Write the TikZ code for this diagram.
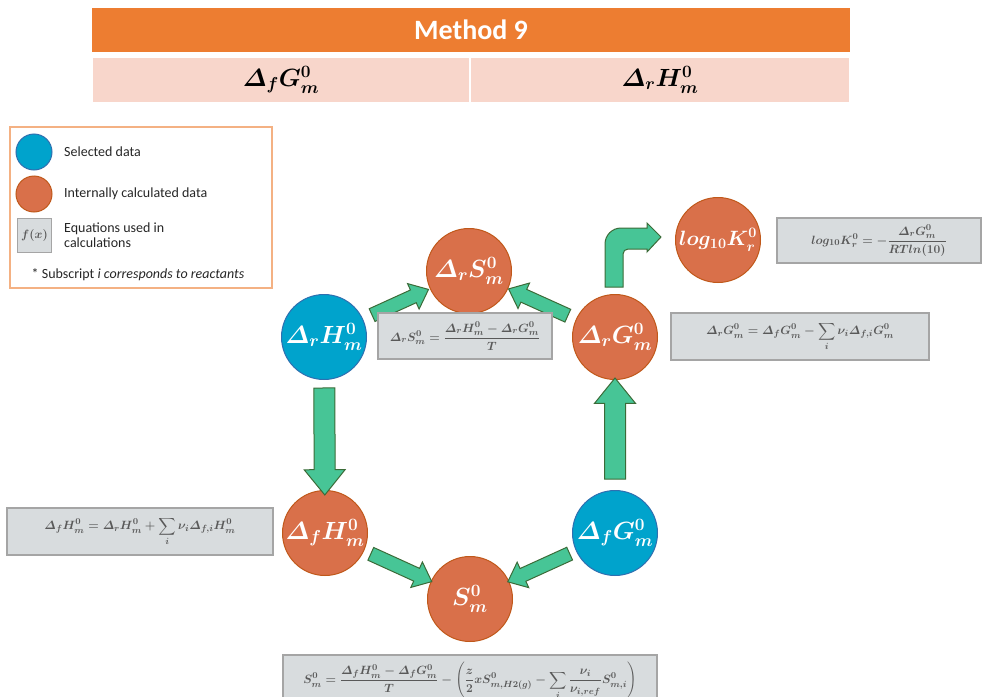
\documentclass[tikz,border=0pt]{standalone}
\usepackage{amsmath}
\usepackage{fontspec}
\newfontfamily\calibri{Carlito}
\usetikzlibrary{shapes.arrows}
\usetikzlibrary{calc}

\definecolor{headorange}{HTML}{ED7D31}
\definecolor{cellpink}{HTML}{F8D6CB}
\definecolor{selblue}{HTML}{00A3CC}
\definecolor{selblueline}{HTML}{2F6FB0}
\definecolor{calcorange}{HTML}{D9704A}
\definecolor{calcorangeline}{HTML}{C0581A}
\definecolor{eqfill}{HTML}{D8DCDE}
\definecolor{eqline}{HTML}{A5A5A5}
\definecolor{eqtext}{HTML}{595959}
\definecolor{arrowgreen}{HTML}{47C596}
\definecolor{arrowline}{HTML}{3B6B38}
\definecolor{legendline}{HTML}{F4B183}
\definecolor{legtextcol}{HTML}{262626}

\begin{document}
\begin{tikzpicture}
[x=1pt,y=1pt,%
  every node/.style={inner sep=0pt},%
  cell/.style={rectangle,fill=cellpink,draw=white,line width=1.5pt,minimum height=46pt,font=\fontsize{26}{30}\selectfont\boldmath},%
  datanode/.style={circle,minimum size=85pt,line width=1pt,text=white,font=\fontsize{26}{30}\selectfont\boldmath},%
  seldata/.style={datanode,fill=selblue,draw=selblueline},%
  calcdata/.style={datanode,fill=calcorange,draw=calcorangeline},%
  eqbox/.style={rectangle,fill=eqfill,draw=eqline,line width=1.2pt,text=eqtext,font=\fontsize{12.5}{15}\selectfont\boldmath},%
  legtext/.style={anchor=west,align=left,text=legtextcol,font=\calibri\fontsize{14}{15.5}\selectfont},%
  bigarrow/.style={single arrow,sloped,allow upside down,fill=arrowgreen,draw=arrowline,line width=1pt,%
    inner xsep=0pt,inner ysep=10pt,single arrow head extend=10pt,single arrow tip angle=78},%
  smallarrow/.style={bigarrow,inner ysep=6.5pt,single arrow head extend=7pt,single arrow tip angle=80},%
  bentarrow/.style={fill=arrowgreen,draw=arrowline,line width=1pt}]
\useasboundingbox (0,0) rectangle (982,-696);
% header table
\node[rectangle,fill=headorange,minimum width=758pt,minimum height=44pt,text=white,
  font=\calibri\bfseries\fontsize{28}{32}\selectfont] (title) at (471,-30) {Method 9};
\node[cell,minimum width=378pt] (inG) at (281,-80) {$\varDelta_f G^0_m$};
\node[cell,minimum width=380pt] (inH) at (660,-80) {$\varDelta_r H^0_m$};
% legend
\node[rectangle,draw=legendline,line width=1.5pt,minimum width=262pt,minimum height=161pt] (legend) at (141,-207.5) {};
\node[circle,fill=selblue,draw=selblueline,line width=1pt,minimum size=36pt] (legsel) at (34,-152) {};
\node[circle,fill=calcorange,draw=calcorangeline,line width=1pt,minimum size=36pt] (legcalc) at (34,-194) {};
\node[eqbox,line width=1pt,minimum size=34pt,font=\fontsize{13}{15}\selectfont\boldmath] (legeq) at (34.5,-235) {$f(x)$};
\node[legtext] (tsel) at (64,-152) {Selected data};
\node[legtext] (tcalc) at (64,-194) {Internally calculated data};
\node[legtext] (teq) at (64,-235) {Equations used in\\calculations};
\node[legtext,anchor=center] (tsub) at (138,-275) {* Subscript \textit{i corresponds to reactants}};
% data nodes
\node[calcdata] (rS) at (469,-271) {$\varDelta_r S^0_m$};
\node[seldata] (rH) at (324,-337) {$\varDelta_r H^0_m$};
\node[calcdata] (rG) at (615,-337) {$\varDelta_r G^0_m$};
\node[calcdata,font=\fontsize{22}{26}\selectfont\boldmath] (logK) at (718,-240) {$log_{10}K^0_r$};
\node[calcdata] (fH) at (325,-533) {$\varDelta_f H^0_m$};
\node[seldata] (fG) at (615,-533) {$\varDelta_f G^0_m$};
\node[calcdata] (S) at (470,-599) {$S^0_m$};
% arrows
\path (rH) -- (rS) node[smallarrow,pos=.5,minimum height=62pt] (a1) {};
\path (rG) -- (rS) node[smallarrow,pos=.5,minimum height=65pt] (a2) {};
\path (rH) -- (fH) node[bigarrow,pos=.5,minimum height=107pt] (a3) {};
\path (fG) -- (rG) node[bigarrow,pos=.5,minimum height=101pt] (a4) {};
\path (fH) -- (S) node[smallarrow,pos=.5,minimum height=67pt] (a5) {};
\path (fG) -- (S) node[smallarrow,pos=.5,minimum height=68pt] (a6) {};
\draw[bentarrow] let \p1=(rG.north), \p2=(logK.west) in
  (\x1-10,\y1+7) -- (\x1-10,\y2-4) arc[start angle=180,end angle=90,radius=16]
  -- (\x2-28,\y2+12) -- (\x2-28,\y2+17) -- (\x2-14,\y2+3) -- (\x2-28,\y2-12) -- (\x2-28,\y2-9)
  -- (\x1+13,\y2-9) arc[start angle=90,end angle=180,radius=5] -- (\x1+8,\y1+7) -- cycle;
% equations
\node[eqbox,minimum width=174pt,minimum height=46pt] (eqrS) at (465,-336)
  {$\varDelta_r S^0_m=\dfrac{\varDelta_r H^0_m-\varDelta_r G^0_m}{T}$};
\node[eqbox,minimum width=258pt,minimum height=47pt] (eqrG) at (800,-336.5)
  {$\displaystyle\varDelta_r G^0_m=\varDelta_f G^0_m-\sum_i \nu_i\varDelta_{f,i}G^0_m$};
\node[eqbox,minimum width=204pt,minimum height=45pt] (eqK) at (879,-240.5)
  {$log_{10}K^0_r=-\dfrac{\varDelta_r G^0_m}{RTln(10)}$};
\node[eqbox,minimum width=266pt,minimum height=47pt] (eqfH) at (140,-531.5)
  {$\displaystyle\varDelta_f H^0_m=\varDelta_r H^0_m+\sum_i \nu_i\varDelta_{f,i}H^0_m$};
\node[eqbox,minimum width=374pt,minimum height=52pt] (eqS) at (470,-681)
  {$\displaystyle S^0_m=\frac{\varDelta_f H^0_m-\varDelta_f G^0_m}{T}-\left(\frac{z}{2}xS^0_{m,H2(g)}-\sum_i\frac{\nu_i}{\nu_{i,ref}}S^0_{m,i}\right)$};
\end{tikzpicture}
\end{document}
